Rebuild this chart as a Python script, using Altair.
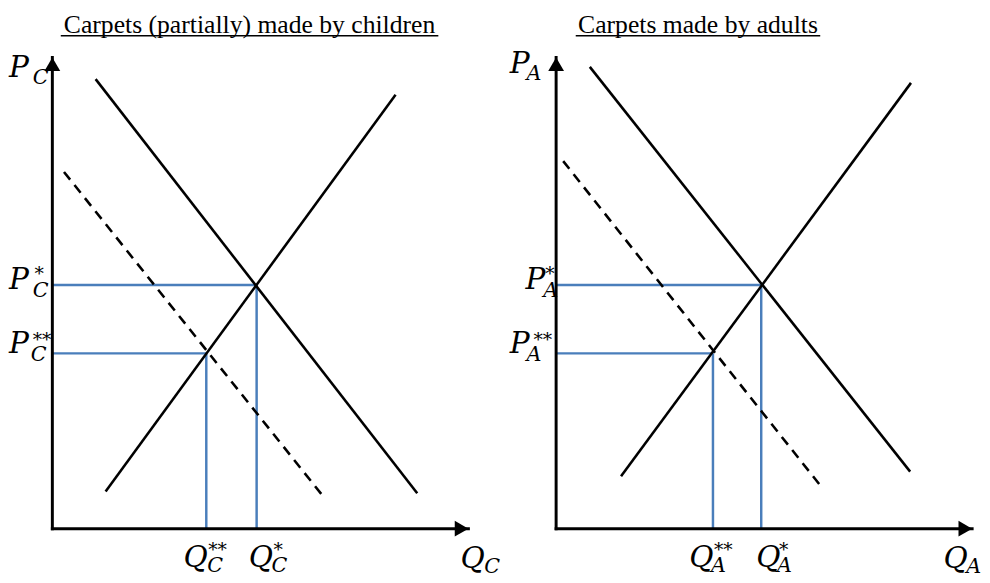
import altair as alt
import pandas as pd

# ---------------- data (axes run from 0 to 10 units) ----------------
AXIS_MAX = 10.0
TITLES = ["Carpets (partially) made by children", "Carpets made by adults"]
SUBSCRIPTS = ["C", "A"]

DEMAND_Q = [[1.04, 8.77], [0.81, 8.51]]
DEMAND_P = [[9.54, 0.75], [9.80, 1.21]]
SUPPLY_Q = [[1.28, 8.25], [1.56, 8.53]]
SUPPLY_P = [[0.79, 9.21], [1.11, 9.46]]
NEWDEM_Q = [[0.28, 6.56], [0.17, 6.40]]
NEWDEM_P = [[7.57, 0.63], [7.80, 0.86]]
Q_STAR = [4.91, 4.93]
P_STAR = [5.17, 5.17]
Q_STAR2 = [3.70, 3.77]
P_STAR2 = [3.72, 3.72]

# ---------------- layout / style ----------------
X_DOMAINS = [(-1.066, 10.592), (-1.327, 10.095)]
WIDTHS = [492, 482]
HEIGHT = 567
Y_DOMAIN = (-0.983, 10.879)
TITLE_Q = [4.74, 3.41]
TITLE_HALF = [191.5, 124]
TITLE_FONT = "Liberation Serif"
MATH_FONT = "DejaVu Serif"
BLUE = "#4A7EBB"
MAIN = 30
SUB = 21
STAR = 19

# label parts: (kind, dx, dy) ; kind in main / sub / star
OFFSETS = [
    {
        "P": [("P", -44, 20), ("sub", -20, 27)],
        "P*": [("P", -44, 4), ("sub", -20, 12), ("*", -18, -5)],
        "P**": [("P", -44, 0), ("sub", -22, 8), ("**", -20, -7)],
        "Q": [("Q", -8, 40), ("sub", 16, 45)],
        "Q*": [("Q", -8, 39), ("sub", 15, 44), ("*", 17, 28)],
        "Q**": [("Q", -23, 39), ("sub", 1, 44), ("**", 2, 28)],
    },
    {
        "P": [("P", -47, 16), ("sub", -30, 23)],
        "P*": [("P", -31, 4), ("sub", -13, 12), ("*", -11, -5)],
        "P**": [("P", -47, 0), ("sub", -30, 8), ("**", -23, -7)],
        "Q": [("Q", -29, 40), ("sub", -6, 45)],
        "Q*": [("Q", -5, 39), ("sub", 16, 44), ("*", 18, 28)],
        "Q**": [("Q", -24, 39), ("sub", -2, 44), ("**", 1, 28)],
    },
]


def panel(i):
    xs = alt.Scale(domain=list(X_DOMAINS[i]), nice=False, zero=False)
    ys = alt.Scale(domain=list(Y_DOMAIN), nice=False, zero=False)

    def X(f):
        return alt.X(f"{f}:Q", scale=xs, axis=None)

    def Y(f):
        return alt.Y(f"{f}:Q", scale=ys, axis=None)

    def X2(f):
        return alt.X2(f"{f}:Q")

    def Y2(f):
        return alt.Y2(f"{f}:Q")

    guides = pd.DataFrame({
        "q1": [0, Q_STAR[i], 0, Q_STAR2[i]],
        "p1": [P_STAR[i], 0, P_STAR2[i], 0],
        "q2": [Q_STAR[i], Q_STAR[i], Q_STAR2[i], Q_STAR2[i]],
        "p2": [P_STAR[i], P_STAR[i], P_STAR2[i], P_STAR2[i]],
    })
    solid = pd.DataFrame({
        "q1": [DEMAND_Q[i][0], SUPPLY_Q[i][0]],
        "p1": [DEMAND_P[i][0], SUPPLY_P[i][0]],
        "q2": [DEMAND_Q[i][1], SUPPLY_Q[i][1]],
        "p2": [DEMAND_P[i][1], SUPPLY_P[i][1]],
    })
    dashed = pd.DataFrame({
        "q1": [NEWDEM_Q[i][0]], "p1": [NEWDEM_P[i][0]],
        "q2": [NEWDEM_Q[i][1]], "p2": [NEWDEM_P[i][1]],
    })
    axes = pd.DataFrame({
        "q1": [0, 0], "p1": [0, 0],
        "q2": [0, AXIS_MAX], "p2": [AXIS_MAX, 0],
    })

    def seg(df, **mk):
        return alt.Chart(df).mark_rule(**mk).encode(
            x=X("q1"), y=Y("p1"), x2=X2("q2"), y2=Y2("p2"))

    layers = [
        seg(guides, color=BLUE, strokeWidth=2.5),
        seg(solid, color="black", strokeWidth=2.6),
        seg(dashed, color="black", strokeWidth=2.6, strokeDash=[10, 7]),
        seg(axes, color="black", strokeWidth=3, strokeCap="square"),
        alt.Chart(pd.DataFrame({"q": [0], "p": [AXIS_MAX]})).mark_point(
            shape="triangle-up", size=256, filled=True, color="black",
            opacity=1, yOffset=6.9).encode(x=X("q"), y=Y("p")),
        alt.Chart(pd.DataFrame({"q": [AXIS_MAX], "p": [0]})).mark_point(
            shape="triangle-right", size=256, filled=True, color="black",
            opacity=1, xOffset=-6.9).encode(x=X("q"), y=Y("p")),
    ]

    tdf = pd.DataFrame({"q": [TITLE_Q[i]], "p": [AXIS_MAX], "t": [TITLES[i]]})
    layers.append(alt.Chart(tdf).mark_text(
        font=TITLE_FONT, fontSize=26, align="center", baseline="alphabetic",
        dy=-25, color="black").encode(x=X("q"), y=Y("p"), text="t:N"))
    layers.append(alt.Chart(tdf).mark_rule(
        color="black", strokeWidth=1.4,
        xOffset=-TITLE_HALF[i], x2Offset=TITLE_HALF[i],
        yOffset=-22, y2Offset=-22).encode(
        x=X("q"), x2=X2("q"), y=Y("p"), y2=Y2("p")))

    anchors = {
        "P": (0, AXIS_MAX), "P*": (0, P_STAR[i]), "P**": (0, P_STAR2[i]),
        "Q": (AXIS_MAX, 0), "Q*": (Q_STAR[i], 0), "Q**": (Q_STAR2[i], 0),
    }
    for key, parts in OFFSETS[i].items():
        q, p = anchors[key]
        adf = pd.DataFrame({"q": [q], "p": [p]})
        for kind, dx, dy in parts:
            if kind == "sub":
                text, size, style = SUBSCRIPTS[i], SUB, "italic"
            elif kind.startswith("*"):
                text, size, style = kind, STAR, "normal"
            else:
                text, size, style = kind, MAIN, "italic"
            layers.append(alt.Chart(adf).mark_text(
                text=text, font=MATH_FONT, fontSize=size, fontStyle=style,
                align="left", baseline="alphabetic", dx=dx, dy=dy,
                color="black").encode(x=X("q"), y=Y("p")))

    return alt.layer(*layers).properties(width=WIDTHS[i], height=HEIGHT)


chart = alt.hconcat(panel(0), panel(1), spacing=0).properties(
    padding=0
).configure_view(stroke=None)

chart.save("out.html", embed_options={"renderer": "svg", "actions": False})
